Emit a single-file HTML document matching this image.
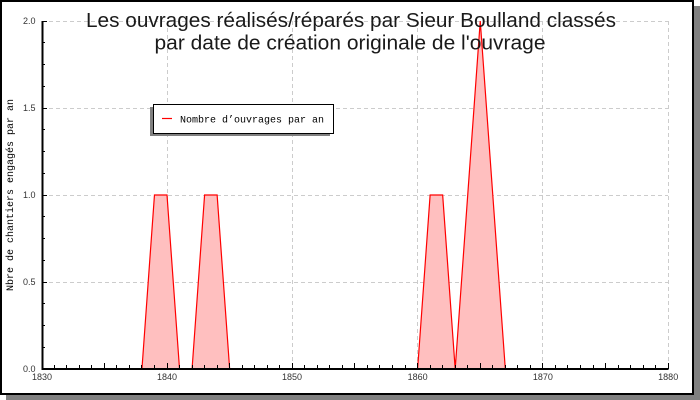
<!DOCTYPE html>
<html><head><meta charset="utf-8"><style>
html,body{margin:0;padding:0;background:#fff;}
svg{display:block;}
</style></head><body>
<svg width="700" height="400" viewBox="0 0 700 400" xmlns="http://www.w3.org/2000/svg">
<rect x="6" y="6" width="694" height="394" fill="#808080"/>
<rect x="1" y="1" width="692" height="393" fill="#fff" stroke="#000" stroke-width="2"/>
<!-- grid -->
<g stroke="#cccccc" stroke-width="1" stroke-dasharray="4,3" shape-rendering="crispEdges" fill="none">
<path d="M42 21.5H668 M42 108.5H668 M42 195.5H668 M42 282.5H668"/>
<path d="M167.5 21V369 M292.5 21V369 M417.5 21V369 M542.5 21V369 M668.5 21V369"/>
</g>
<!-- data -->
<path d="M141.94 369 L154.47 195 L167 195 L179.53 369 Z M192.06 369 L204.59 195 L217.12 195 L229.65 369 Z" fill="#ffbfbf"/>
<path d="M417.6 369 L430.13 195 L442.66 195 L455.19 369 L467.72 195 L480.25 21 L492.78 195 L505.31 369 Z" fill="#ffbfbf"/>
<g stroke="#ff0000" stroke-width="1.2" fill="none">
<path d="M141.94 369 L154.47 195 L167 195 L179.53 369"/>
<path d="M192.06 369 L204.59 195 L217.12 195 L229.65 369"/>
<path d="M417.6 369 L430.13 195 L442.66 195 L455.19 369 L467.72 195 L480.25 21 L492.78 195 L505.31 369"/>
</g>
<!-- axes -->
<g stroke="#000" stroke-width="1" shape-rendering="crispEdges" fill="none">
<path d="M42.5 21V369H668.5" stroke-width="2"/>
<path d="M54.5 369v-4 M66.5 369v-4 M79.5 369v-4 M91.5 369v-4 M104.5 369v-6 M116.5 369v-4 M129.5 369v-4 M141.5 369v-4 M154.5 369v-4 M167.5 369v-6 M179.5 369v-4 M192.5 369v-4 M204.5 369v-4 M217.5 369v-4 M229.5 369v-6 M242.5 369v-4 M254.5 369v-4 M267.5 369v-4 M279.5 369v-4 M292.5 369v-6 M304.5 369v-4 M317.5 369v-4 M329.5 369v-4 M342.5 369v-4 M354.5 369v-6 M367.5 369v-4 M379.5 369v-4 M392.5 369v-4 M405.5 369v-4 M417.5 369v-6 M430.5 369v-4 M442.5 369v-4 M455.5 369v-4 M467.5 369v-4 M480.5 369v-6 M492.5 369v-4 M505.5 369v-4 M517.5 369v-4 M530.5 369v-4 M542.5 369v-6 M555.5 369v-4 M567.5 369v-4 M580.5 369v-4 M593.5 369v-4 M605.5 369v-6 M618.5 369v-4 M630.5 369v-4 M643.5 369v-4 M655.5 369v-4 M668.5 369v-6"/>
<path d="M42 347.5h3 M42 325.5h3 M42 303.5h3 M42 282.5h5 M42 260.5h3 M42 238.5h3 M42 216.5h3 M42 195.5h5 M42 173.5h3 M42 151.5h3 M42 129.5h3 M42 108.5h5 M42 86.5h3 M42 64.5h3 M42 42.5h3 M42 21.5h5"/>
</g>
<!-- tick labels -->
<g font-family="Liberation Sans, sans-serif" font-size="9" fill="#333">
<g text-anchor="end">
<text x="35.5" y="372">0.0</text>
<text x="35.5" y="285">0.5</text>
<text x="35.5" y="198">1.0</text>
<text x="35.5" y="111">1.5</text>
<text x="35.5" y="24">2.0</text>
</g>
<g text-anchor="middle">
<text x="42" y="380">1830</text>
<text x="167" y="380">1840</text>
<text x="292" y="380">1850</text>
<text x="417.6" y="380">1860</text>
<text x="542.9" y="380">1870</text>
<text x="668.2" y="380">1880</text>
</g>
</g>
<!-- y-axis label -->
<text transform="translate(13,195) rotate(-90)" text-anchor="middle" font-family="Liberation Mono, monospace" font-size="10" fill="#000">Nbre de chantiers engagés par an</text>
<!-- title -->
<g font-family="Liberation Sans, sans-serif" font-size="20.5" fill="#1a1a1a">
<text x="86" y="27" textLength="530" lengthAdjust="spacingAndGlyphs">Les ouvrages réalisés/réparés par Sieur Boulland classés</text>
<text x="154.5" y="49.5" textLength="391" lengthAdjust="spacingAndGlyphs">par date de création originale de l'ouvrage</text>
</g>
<!-- legend -->
<rect x="150" y="107" width="180" height="29" fill="#808080"/>
<rect x="153.5" y="104.5" width="180" height="29" fill="#fff" stroke="#000" stroke-width="1"/>
<line x1="162" y1="118.5" x2="172" y2="118.5" stroke="#ff0000" stroke-width="1.2"/>
<text x="180" y="122.5" font-family="Liberation Mono, monospace" font-size="10" fill="#000">Nombre d’ouvrages par an</text>
</svg>
</body></html>
